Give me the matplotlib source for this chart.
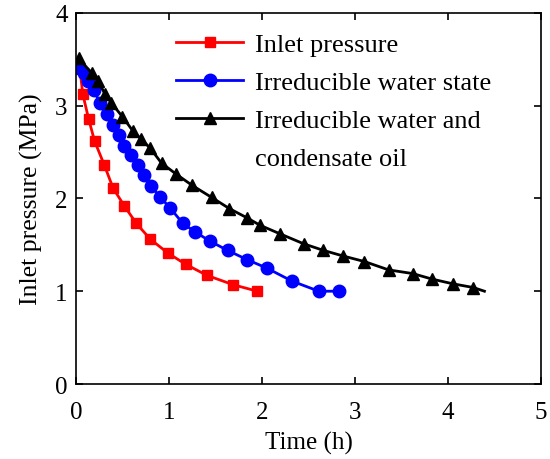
import matplotlib
matplotlib.use("Agg")
import matplotlib.pyplot as plt
from matplotlib.lines import Line2D

plt.rcParams["font.family"] = ["Liberation Serif", "DejaVu Serif"]

# inlet pressure only
t_inlet = [0.03, 0.075, 0.136, 0.20, 0.305, 0.40, 0.52, 0.65, 0.80, 0.99,
           1.18, 1.41, 1.69, 1.95]
p_inlet = [3.50, 3.12, 2.86, 2.62, 2.36, 2.11, 1.92, 1.73, 1.56, 1.41,
           1.29, 1.17, 1.07, 1.00]

# irreducible water state
t_water = [0.03, 0.087, 0.13, 0.19, 0.26, 0.33, 0.40, 0.46, 0.52, 0.59,
           0.67, 0.73, 0.81, 0.90, 1.01, 1.15, 1.28, 1.44, 1.63, 1.84,
           2.05, 2.32, 2.61, 2.83]
p_water = [3.41, 3.35, 3.26, 3.17, 3.03, 2.91, 2.79, 2.68, 2.57, 2.47,
           2.36, 2.25, 2.13, 2.02, 1.90, 1.73, 1.64, 1.54, 1.44, 1.34,
           1.25, 1.11, 1.00, 1.00]

# irreducible water and condensate oil
t_oil = [0.03, 0.17, 0.24, 0.31, 0.38, 0.50, 0.61, 0.70, 0.80, 0.92,
         1.08, 1.25, 1.46, 1.65, 1.84, 1.98, 2.19, 2.45, 2.66, 2.87,
         3.10, 3.36, 3.62, 3.83, 4.05, 4.27, 4.39]
p_oil = [3.51, 3.35, 3.26, 3.13, 3.03, 2.88, 2.73, 2.64, 2.54, 2.38,
         2.26, 2.14, 2.01, 1.89, 1.79, 1.71, 1.62, 1.51, 1.44, 1.38,
         1.32, 1.23, 1.19, 1.13, 1.08, 1.04, 1.00]

FS = 18
fig = plt.figure(figsize=(5.5, 4.6), dpi=100)
ax = fig.add_axes([0.138, 0.163, 0.846, 0.807])

l1, = ax.plot(t_inlet, p_inlet, color="#ff0000", lw=2.0, marker="s", ms=7.5,
              markevery=slice(1, None), label="Inlet pressure")
l2, = ax.plot(t_water, p_water, color="#0000ff", lw=2.0, marker="o", ms=9,
              label="Irreducible water state")
l3, = ax.plot(t_oil, p_oil, color="black", lw=2.0, marker="^", ms=9,
              markevery=slice(0, len(t_oil) - 1),
              label="Irreducible water and")

ax.set_xlim(0, 5)
ax.set_ylim(0, 4)
ax.set_xticks([0, 1, 2, 3, 4, 5])
ax.set_yticks([0, 1, 2, 3, 4])
ax.tick_params(direction="in", top=True, right=True, labelsize=FS,
               length=5, width=1.2, pad=6)
ax.tick_params(axis="x", pad=12)
for s in ax.spines.values():
    s.set_linewidth(1.2)
ax.set_xlabel("Time (h)", fontsize=FS, labelpad=6)
ax.set_ylabel("Inlet pressure (MPa)", fontsize=18.5, labelpad=9)

blank = Line2D([], [], color="none", label="condensate oil")
ax.legend(handles=[l1, l2, l3, blank], loc="upper left",
          bbox_to_anchor=(0.181, 0.99), frameon=False, fontsize=19,
          handlelength=2.55, handletextpad=0.45, labelspacing=0.55,
          borderaxespad=0.2)

fig.savefig("out.png", dpi=100)
